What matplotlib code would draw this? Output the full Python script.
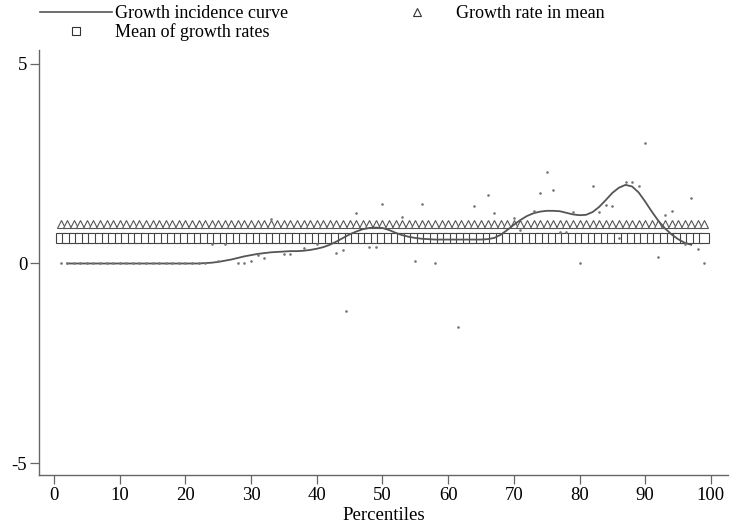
import matplotlib
matplotlib.use("Agg")
import matplotlib.pyplot as plt
from matplotlib.lines import Line2D

# percentiles 1..99
pct = list(range(1, 100))

growth_rate_in_mean = 0.98
mean_of_growth_rates = 0.64

# smoothed growth incidence curve
curve_x = [2, 4, 6, 8, 10, 12, 14, 16, 18, 20, 22, 23, 24, 25, 26, 27, 28, 29, 30,
           31, 32, 33, 34, 35, 36, 37, 38, 39, 40, 41, 42, 43, 44, 45, 46, 47, 48,
           49, 50, 51, 52, 53, 54, 55, 56, 57, 58, 60, 62, 64, 65, 66, 67, 68, 69,
           70, 71, 72, 73, 74, 75, 76, 77, 78, 79, 80, 81, 82, 83, 84, 85, 86, 87,
           88, 89, 90, 91, 92, 93, 94, 95, 96, 97]
curve_y = [0, 0, 0, 0, 0, 0, 0, 0, 0, 0, 0, 0.01, 0.02, 0.04, 0.07, 0.10, 0.14, 0.18, 0.21,
           0.24, 0.26, 0.28, 0.29, 0.30, 0.31, 0.31, 0.32, 0.34, 0.37, 0.41, 0.47, 0.55, 0.64, 0.73, 0.80, 0.86, 0.89,
           0.90, 0.89, 0.84, 0.77, 0.71, 0.67, 0.64, 0.62, 0.61, 0.60, 0.60, 0.60, 0.60, 0.60, 0.61, 0.64, 0.72, 0.84,
           0.97, 1.09, 1.19, 1.26, 1.30, 1.32, 1.32, 1.31, 1.27, 1.23, 1.21, 1.22, 1.29, 1.42, 1.59, 1.77, 1.90, 1.97,
           1.93, 1.78, 1.55, 1.30, 1.07, 0.88, 0.73, 0.61, 0.52, 0.47]

# raw growth rates by percentile
dot_x = [1, 2, 3, 4, 5, 6, 7, 8, 9, 10, 11, 12, 13, 14, 15, 16, 17, 18, 19, 20, 21, 22, 23,
         24, 25, 26, 28, 29, 30, 31, 32, 33, 35, 36, 38, 40, 43, 44, 44.5, 46, 48, 49, 50,
         53, 55, 56, 58, 61.5, 64, 66, 67, 70, 71, 73, 74, 75, 76, 77, 78, 79, 80, 82, 83,
         84, 85, 86, 87, 88, 89, 90, 92, 93, 94, 96, 97, 98, 99]
dot_y = [0, 0, 0, 0, 0, 0, 0, 0, 0, 0, 0, 0, 0, 0, 0, 0, 0, 0, 0, 0, 0, 0, 0,
         0.48, 0.06, 0.48, 0, 0, 0.06, 0.21, 0.13, 1.12, 0.23, 0.23, 0.39, 0.48, 0.26, 0.33, -1.2, 1.26, 0.41, 0.41, 1.48,
         1.16, 0.06, 1.48, 0, -1.6, 1.43, 1.72, 1.26, 1.15, 0.83, 1.31, 1.77, 2.3, 1.85, 0.78, 0.78, 1.28, 0, 1.95, 1.28,
         1.46, 1.43, 0.65, 2.05, 2.03, 1.95, 3.02, 0.16, 1.21, 1.31, 0.49, 1.65, 0.36, 0]

plt.rcParams['font.family'] = ['Liberation Serif', 'DejaVu Serif']

fig = plt.figure(figsize=(7.30, 5.24), dpi=100)
ax = fig.add_axes([39 / 730, 49 / 524, 689 / 730, 425 / 524])

grey = '#555555'
ax.plot(pct, [growth_rate_in_mean] * len(pct), linestyle='none', marker='^',
        markersize=5.5, markerfacecolor='white', markeredgecolor=grey, markeredgewidth=0.8)
ax.plot(pct, [mean_of_growth_rates] * len(pct), linestyle='none', marker='s',
        markersize=7, markerfacecolor='white', markeredgecolor='#444444', markeredgewidth=0.8)
ax.plot(curve_x, curve_y, color=grey, linewidth=1.3)
ax.plot(dot_x, dot_y, linestyle='none', marker='.', markersize=1.8, color='#777777')

ax.set_xlim(-2.28, 102.6)
ax.set_ylim(-5.3, 5.35)
ax.set_xticks(range(0, 101, 10))
ax.set_yticks([-5, 0, 5])
ax.set_yticklabels(['-5', '0', '5'])
for s in ['top', 'right']:
    ax.spines[s].set_visible(False)
for s in ['left', 'bottom']:
    ax.spines[s].set_color('#666666')
    ax.spines[s].set_linewidth(1.0)
ax.tick_params(axis='both', direction='out', length=6.5, width=0.9, color='#666666',
               labelsize=13.5, pad=2)
ax.set_xlabel('Percentiles', fontsize=13.5, labelpad=2)

line_h = Line2D([], [], color=grey, linewidth=1.2)
sq_h = Line2D([], [], linestyle='none', marker='s', markersize=6, markerfacecolor='white',
              markeredgecolor='#333333', markeredgewidth=0.8)
tri_h = Line2D([], [], linestyle='none', marker='^', markersize=6, markerfacecolor='white',
               markeredgecolor='#333333', markeredgewidth=0.8)

fig.legend([line_h, sq_h], ['Growth incidence curve', 'Mean of growth rates'],
           loc='upper left', bbox_to_anchor=(40 / 730, 1 - 5 / 524),
           frameon=False, fontsize=13, handlelength=4.0, handletextpad=0.17,
           labelspacing=0.08, borderpad=0, borderaxespad=0)
fig.legend([tri_h], ['Growth rate in mean'],
           loc='upper left', bbox_to_anchor=(381 / 730, 1 - 5 / 524),
           frameon=False, fontsize=13, handlelength=4.0, handletextpad=0.17,
           borderpad=0, borderaxespad=0)

fig.savefig('out.png', dpi=100)
